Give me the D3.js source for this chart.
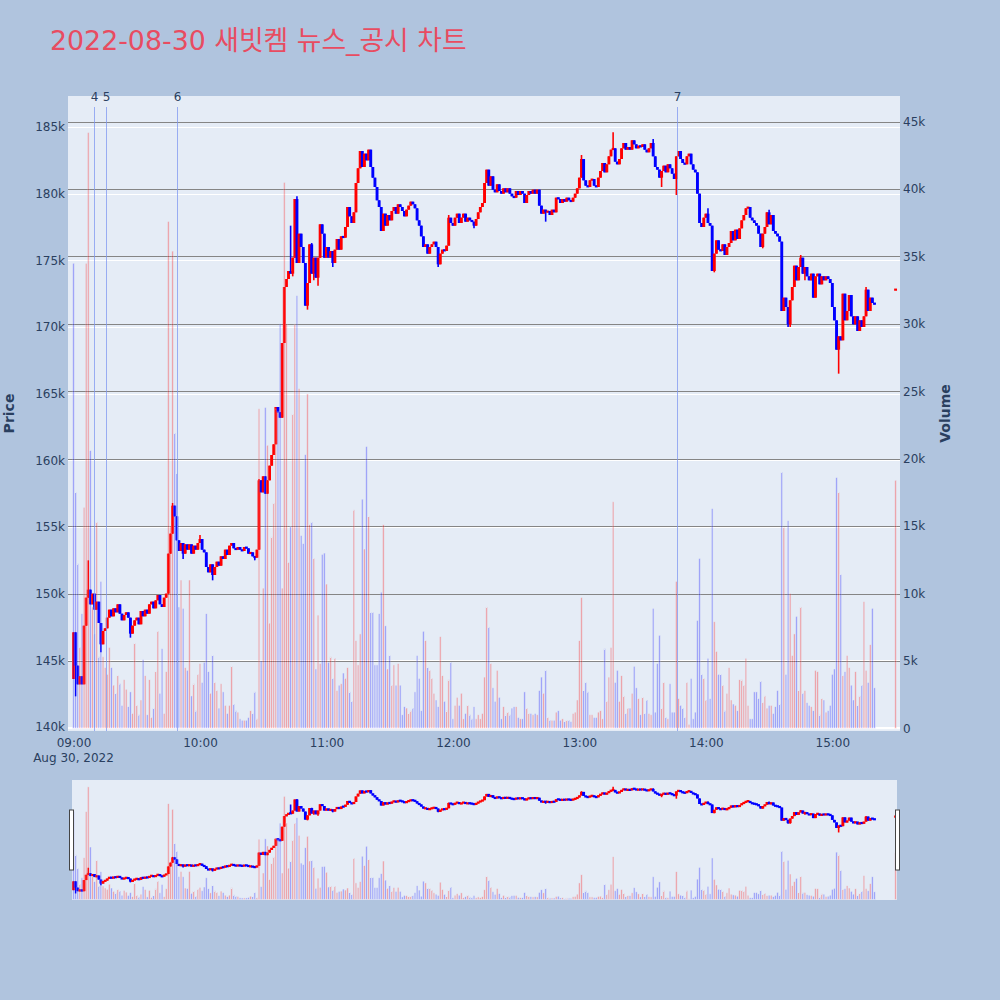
<!DOCTYPE html>
<html>
<head>
<meta charset="utf-8">
<script src="https://cdn.jsdelivr.net/npm/d3@7/dist/d3.min.js"></script>
<style>
  html,body{margin:0;padding:0;background:#b0c4de;}
  svg{display:block;}
</style>
</head>
<body>
<svg id="chart" width="1000" height="1000"></svg>
<script>
// ---------------- data (prices in units of 100 KRW, volumes in units of 100 shares) ----------------
const chartTitle = "2022-08-30 새빗켐 뉴스_공시 차트";
const tradeDate = "2022-08-30";
const sessionStart = "09:00";
const firstOpen = 1436;

// one close per minute from 09:00 to 15:20
const closes = [
1471,1446,1432,1438,1432,1476,1497,1503,1492,1500,
1488,1494,1478,1462,1472,1474,1482,1488,1483,1489,
1486,1492,1485,1480,1484,1486,1482,1470,1476,1480,
1482,1477,1487,1483,1488,1485,1492,1494,1489,1495,
1499,1492,1490,1497,1500,1530,1545,1566,1558,1540,
1532,1538,1530,1537,1533,1537,1530,1536,1533,1538,
1541,1533,1531,1520,1516,1522,1514,1520,1524,1521,
1528,1526,1533,1529,1536,1538,1534,1533,1535,1533,
1532,1535,1534,1530,1531,1528,1527,1533,1585,
1576,1588,1575,1585,1596,1604,1612,1640,1636,1632,
1688,1730,1736,1742,1740,1752,1796,1748,1770,1760,
1748,1716,1733,1762,1740,1752,1737,1752,1777,1770,
1752,1760,1752,1757,1748,1758,1766,1758,1768,1767,
1775,1790,1783,1778,1786,1808,1819,1832,1820,1830,
1825,1833,1820,1812,1805,1795,1790,1772,1785,
1776,1784,1780,1787,1790,1785,1792,1790,1787,1783,
1788,1791,1794,1792,1789,1780,1776,1768,1760,1762,
1755,1760,1762,1764,1760,1747,1755,1758,1757,1761,
1782,1778,1776,1782,1785,1778,1782,1785,1779,1782,
1780,1779,1776,1781,1786,1790,1793,1808,1818,1806,
1813,1803,1801,1807,1802,1800,1804,1801,1804,1800,
1798,1797,1802,1799,1802,1800,1793,1799,1802,1800,
1803,1800,1803,1791,1785,1788,1786,1787,1784,1788,
1786,1797,1796,1793,1796,1794,1797,1795,1794,1797,
1800,1804,1812,1826,
1810,1806,1805,1810,1811,1806,1805,1812,1817,1823,
1816,1822,1828,1833,1834,1824,1822,1826,1834,1838,
1833,1835,
1833,1840,1837,1834,1836,1835,1837,1833,1831,1834,
1838,1828,1820,1818,1812,1817,1821,1816,1822,1819,
1815,1811,1828,1832,1826,1823,1822,1828,1830,1822,
1818,1816,1800,1778,1775,1782,1785,1778,1776,1742,
1755,1765,1758,1757,1762,1754,1760,1763,1772,1765,
1773,1766,1774,1780,1784,1789,1790,1782,1780,1778,
1776,1770,1760,1770,1775,1786,1777,1784,1772,1770,
1768,1764,1712,1722,1715,1702,1720,1730,1746,1735,
1745,1752,1740,1745,1738,1735,1740,1722,1738,1740,
1732,1738,1735,1738,1736,1733,1715,1705,1683,1693,
1690,1725,1705,1712,1724,1708,1702,1708,1697,1705,
1700,1708,1728,1712,1722,1718,1717
];

const volumes = [
345,175,122,60,85,164,345,442,206,90,
70,153,53,109,53,45,40,60,45,32,
26,39,33,17,36,29,16,27,11,63,
17,10,21,51,39,10,36,8,15,42,
72,26,59,11,42,376,150,354,219,189,
90,110,89,45,43,110,24,33,13,40,
48,34,49,85,42,26,54,34,28,15,
33,27,17,11,17,46,18,13,12,7,
6,6,6,8,13,11,27,7,237,
50,104,238,210,78,142,167,237,235,300,
104,405,300,123,150,233,300,321,252,143,
137,203,248,151,153,126,44,84,48,129,
130,107,49,53,37,52,28,32,33,41,
37,45,27,20,162,65,47,70,170,133,
209,157,86,86,47,47,85,101,151,76,
44,54,32,47,32,48,32,10,16,15,
11,13,15,27,54,37,13,72,65,45,
43,37,26,21,16,68,39,20,13,36,
49,7,17,23,17,26,7,11,17,10,
7,16,7,10,7,11,38,90,75,48,
30,20,43,23,7,16,10,12,10,15,
16,16,8,7,7,27,15,11,11,10,
11,10,28,38,26,43,8,6,6,6,
12,13,6,7,5,6,6,5,11,12,
21,65,97,
28,34,27,10,10,8,8,12,13,7,
59,20,38,60,168,34,43,20,39,24,
11,15,15,26,46,30,22,10,23,11,
21,11,10,89,12,48,69,15,34,8,
7,33,12,12,109,22,17,15,8,34,
3,37,7,12,80,126,40,37,21,52,
22,163,79,57,40,40,32,13,26,45,
21,18,17,13,36,36,32,52,17,7,
7,27,27,22,35,19,24,15,17,17,
11,16,28,18,190,149,40,154,100,54,
70,83,28,90,26,28,19,17,16,13,
43,42,10,22,21,12,13,17,40,44,
186,175,114,39,42,54,45,32,21,42,
17,24,32,94,43,34,62,89,30
];

// [minute index, price] for wicks that reach beyond the candle body
const wickHigh = [[7,1525],[47,1568],[60,1544],[88,1586],[103,1776],[106,1798],[113,1763],[178,1784],
  [241,1829],[256,1846],[275,1841],[301,1789],[330,1788],[345,1754],[376,1730]];
const wickLow = [[1,1423],[13,1456],[27,1467],[52,1526],[66,1510],[86,1525],[104,1738],[111,1713],
  [114,1735],[116,1731],[123,1745],[173,1745],[190,1774],[224,1779],[279,1805],[286,1799],
  [304,1741],[327,1759],[339,1700],[340,1700],[347,1735],[363,1665]];

const auctionTime = "15:30";
const auctionPrice = 1728;
const auctionVolume = 184;

const newsTimes = ["09:09:40","09:15:25","09:49:05","13:46:20"];
const newsLabels = ["4","5","6","7"];

const priceTicks = [140000,145000,150000,155000,160000,165000,170000,175000,180000,185000];
const volumeTicks = [0,5000,10000,15000,20000,25000,30000,35000,40000,45000];
const timeTicks = ["09:00","10:00","11:00","12:00","13:00","14:00","15:00"];
const dateLabel = "Aug 30, 2022";

// ---------------- records ----------------
const parse = d3.timeParse("%Y-%m-%d %H:%M:%S");
const t0 = parse(`${tradeDate} ${sessionStart}:00`);
const hiMap = new Map(wickHigh), loMap = new Map(wickLow);
const candles = closes.map((c, i) => {
  const o = i === 0 ? firstOpen : closes[i - 1];
  const h = Math.max(o, c, hiMap.has(i) ? hiMap.get(i) : -Infinity);
  const l = Math.min(o, c, loMap.has(i) ? loMap.get(i) : Infinity);
  return { t: d3.timeMinute.offset(t0, i), o: o * 100, c: c * 100, h: h * 100, l: l * 100,
           v: volumes[i] * 100, up: i > 0 && c > closes[i - 1] };
});
{
  const last = closes[closes.length - 1];
  candles.push({ t: parse(`${tradeDate} ${auctionTime}:00`), o: auctionPrice * 100, c: auctionPrice * 100,
    h: auctionPrice * 100, l: auctionPrice * 100, v: auctionVolume * 100, up: auctionPrice > last });
}

// ---------------- layout ----------------
const W = 1000, H = 1000;
const plot = { l: 68, r: 900, t: 96, b: 731 };
const slider = { l: 72, r: 897, t: 780, b: 900 };
const RED = "#ff0000", BLUE = "#0000ff";
const FONT = "'DejaVu Sans', 'Noto Sans CJK KR', sans-serif";
const TXT = "#2a3f5f";

const x = d3.scaleTime()
  .domain([parse(`${tradeDate} 08:57:23`), parse(`${tradeDate} 15:32:06`)])
  .range([plot.l, plot.r]);
const yP = d3.scaleLinear().domain([139700, 187325]).range([plot.b, plot.t]);
const yV = d3.scaleLinear().domain([-200, 46906]).range([plot.b, plot.t]);
const yPs = yP.copy().range([slider.b, slider.t]);
const yVs = yV.copy().range([slider.b, slider.t]);

const svg = d3.select("#chart");
svg.append("rect").attr("width", W).attr("height", H).attr("fill", "#b0c4de");
svg.append("rect").attr("x", plot.l).attr("y", plot.t)
  .attr("width", plot.r - plot.l).attr("height", plot.b - plot.t).attr("fill", "#e5ecf6");

const defs = svg.append("defs");
defs.append("clipPath").attr("id", "clipMain").append("rect")
  .attr("x", plot.l).attr("y", plot.t).attr("width", plot.r - plot.l).attr("height", plot.b - plot.t);
defs.append("clipPath").attr("id", "clipSlider").append("rect")
  .attr("x", slider.l).attr("y", slider.t).attr("width", slider.r - slider.l).attr("height", slider.b - slider.t);

// ---------------- grid ----------------
const grid = svg.append("g");
grid.selectAll("line.pg").data(priceTicks).join("line").attr("class", "pg")
  .attr("x1", plot.l).attr("x2", plot.r)
  .attr("y1", d => Math.round(yP(d)) + 0.5).attr("y2", d => Math.round(yP(d)) + 0.5)
  .attr("stroke", "#ffffff").attr("stroke-width", 1.2);
grid.selectAll("line.vg").data(volumeTicks.filter(d => d !== 0)).join("line").attr("class", "vg")
  .attr("x1", plot.l).attr("x2", plot.r)
  .attr("y1", d => Math.round(yV(d)) + 0.5).attr("y2", d => Math.round(yV(d)) + 0.5)
  .attr("stroke", "#858585").attr("stroke-width", 1.2);
grid.append("line").attr("x1", plot.l).attr("x2", plot.r)
  .attr("y1", yV(0)).attr("y2", yV(0)).attr("stroke", "#ffffff").attr("stroke-width", 2);

// ---------------- marks ----------------
function candleColor(d) { return (d.c > d.o || (d.c === d.o && d.up)) ? RED : BLUE; }

function drawCandles(g, ys) {
  const cg = g.append("g");
  cg.selectAll("line").data(candles).join("line")
    .attr("x1", d => x(d.t)).attr("x2", d => x(d.t))
    .attr("y1", d => ys(d.h)).attr("y2", d => ys(d.l))
    .attr("stroke", candleColor).attr("stroke-width", 1.6);
  cg.selectAll("rect").data(candles).join("rect")
    .attr("x", d => x(d.t) - 1.45).attr("width", 2.9)
    .attr("y", d => {
      const top = ys(Math.max(d.o, d.c)), bot = ys(Math.min(d.o, d.c));
      return bot - top < 2.2 ? (top + bot) / 2 - 1.1 : top;
    })
    .attr("height", d => Math.max(2.2, ys(Math.min(d.o, d.c)) - ys(Math.max(d.o, d.c))))
    .attr("fill", candleColor);
}

function drawVolume(g, ys) {
  g.append("g").attr("opacity", 0.3)
    .selectAll("rect").data(candles).join("rect")
    .attr("x", d => x(d.t) - 0.85).attr("width", 1.7)
    .attr("y", d => ys(d.v)).attr("height", d => Math.max(0, ys(0) - ys(d.v)))
    .attr("fill", d => d.up ? RED : BLUE)
    .attr("stroke", "#e5ecf6").attr("stroke-width", 0.5);
}

const main = svg.append("g").attr("clip-path", "url(#clipMain)");
drawCandles(main, yP);
drawVolume(main, yV);

// news markers
const news = svg.append("g");
newsTimes.forEach((s, i) => {
  const xx = Math.round(x(parse(`${tradeDate} ${s}`))) + 0.5;
  news.append("line").attr("x1", xx).attr("x2", xx).attr("y1", 107).attr("y2", plot.b)
    .attr("stroke", "#7d97f0").attr("stroke-opacity", 0.75).attr("stroke-width", 1);
  news.append("text").attr("x", xx).attr("y", 101).attr("text-anchor", "middle")
    .attr("fill", TXT).style("font-family", FONT).style("font-size", "12px").text(newsLabels[i]);
});

// ---------------- axes ----------------
function styleAxis(g) {
  g.select(".domain").remove();
  g.selectAll(".tick line").remove();
  g.selectAll("text").attr("fill", TXT).style("font-family", FONT).style("font-size", "12px");
}
svg.append("g").attr("transform", `translate(${plot.l - 1},0)`)
  .call(d3.axisLeft(yP).tickValues(priceTicks).tickFormat(d => (d / 1000) + "k").tickSize(0).tickPadding(2))
  .call(styleAxis);
svg.append("g").attr("transform", `translate(${plot.r},0)`)
  .call(d3.axisRight(yV).tickValues(volumeTicks).tickFormat(d => d === 0 ? "0" : (d / 1000) + "k").tickSize(0).tickPadding(3))
  .call(styleAxis);
svg.append("g").attr("transform", `translate(0,${plot.b})`)
  .call(d3.axisBottom(x).tickValues(timeTicks.map(s => parse(`${tradeDate} ${s}:00`)))
    .tickFormat(d3.timeFormat("%H:%M")).tickSize(0).tickPadding(7))
  .call(styleAxis);
svg.append("text").attr("x", x(t0)).attr("y", 762).attr("text-anchor", "middle")
  .attr("fill", TXT).style("font-family", FONT).style("font-size", "12px").text(dateLabel);

svg.append("text").attr("transform", `translate(9.5,${(plot.t + plot.b) / 2}) rotate(-90)`)
  .attr("text-anchor", "middle").attr("dy", "0.35em").attr("fill", TXT)
  .style("font-family", FONT).style("font-size", "14px").style("font-weight", "bold").text("Price");
svg.append("text").attr("transform", `translate(945,${(plot.t + plot.b) / 2}) rotate(-90)`)
  .attr("text-anchor", "middle").attr("dy", "0.35em").attr("fill", TXT)
  .style("font-family", FONT).style("font-size", "14px").style("font-weight", "bold").text("Volume");

// title
svg.append("text").attr("x", 50).attr("y", 50).attr("fill", "#e84c61")
  .style("font-family", FONT).style("font-size", "26.8px").text(chartTitle);

// ---------------- range slider ----------------
svg.append("rect").attr("x", slider.l).attr("y", slider.t)
  .attr("width", slider.r - slider.l).attr("height", slider.b - slider.t).attr("fill", "#e5ecf6");
const sl = svg.append("g").attr("clip-path", "url(#clipSlider)");
drawCandles(sl, yPs);
drawVolume(sl, yVs);
const hy = slider.t + (slider.b - slider.t) / 4;
const hh = (slider.b - slider.t) / 2;
[slider.l - 2.5, slider.r - 1.5].forEach(hx => {
  svg.append("rect").attr("x", hx).attr("y", hy).attr("width", 4).attr("height", hh)
    .attr("fill", "#ffffff").attr("stroke", "#444").attr("stroke-width", 1);
});
</script>
</body>
</html>
